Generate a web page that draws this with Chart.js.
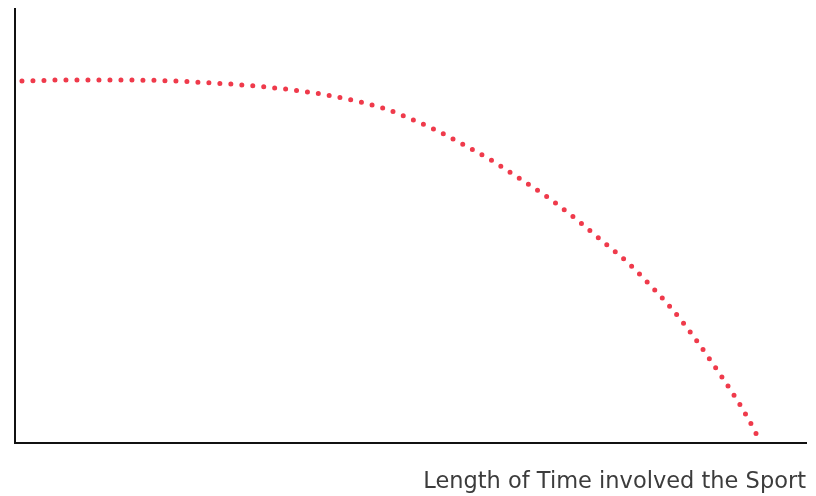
<!DOCTYPE html>
<html>
<head>
<meta charset="utf-8">
<script src="https://cdn.jsdelivr.net/npm/chart.js@4"></script>
<style>
  html, body { margin: 0; padding: 0; background: #ffffff; }
  #wrap { width: 816px; height: 496px; }
</style>
</head>
<body>
<div id="wrap"><canvas id="c" width="816" height="496"></canvas></div>
<script>
const timeValues = [0.88, 6.45, 12.01, 18.33, 23.39, 28.82, 34.39, 39.95, 44.0, 46.78, 49.56, 53.35, 57.02, 60.64, 64.13, 67.64, 70.92, 74.08, 77.24, 80.28, 83.06, 85.84, 88.24, 90.64, 92.79, 94.3];
const performanceValues = [83.41, 83.64, 83.64, 83.53, 83.11, 82.49, 81.50, 80.02, 78.41, 77.03, 75.05, 71.96, 68.43, 64.68, 60.53, 56.22, 51.61, 46.77, 41.94, 36.41, 30.88, 24.42, 18.20, 11.75, 5.30, 0.0];
const xAxisTitle = 'Length of Time involved the Sport';

const points = timeValues.map((x, i) => ({ x: x, y: performanceValues[i] }));

new Chart(document.getElementById('c'), {
  type: 'line',
  data: {
    datasets: [{
      data: points,
      borderColor: '#ef3a4b',
      borderWidth: 5,
      borderDash: [0, 11],
      borderCapStyle: 'round',
      pointRadius: 0,
      cubicInterpolationMode: 'monotone',
      fill: false
    }]
  },
  options: {
    responsive: false,
    animation: false,
    layout: { padding: { left: 15, top: 9, right: 10, bottom: 0 } },
    plugins: { legend: { display: false }, tooltip: { enabled: false } },
    scales: {
      x: {
        type: 'linear',
        min: 0,
        max: 100,
        grid: { display: false },
        ticks: { display: false },
        border: { display: true, color: '#111111', width: 2 },
        title: {
          display: true,
          text: xAxisTitle,
          align: 'end',
          color: '#3c3c3c',
          font: { family: "'DejaVu Sans'", size: 22.5, weight: 'normal' },
          padding: { top: 0, bottom: 0 }
        },
        afterFit: (s) => { s.height = 53; }
      },
      y: {
        type: 'linear',
        min: 0,
        max: 100,
        grid: { display: false },
        ticks: { display: false },
        border: { display: true, color: '#111111', width: 2 },
        afterFit: (s) => { s.width = 0; }
      }
    }
  }
});
</script>
</body>
</html>
